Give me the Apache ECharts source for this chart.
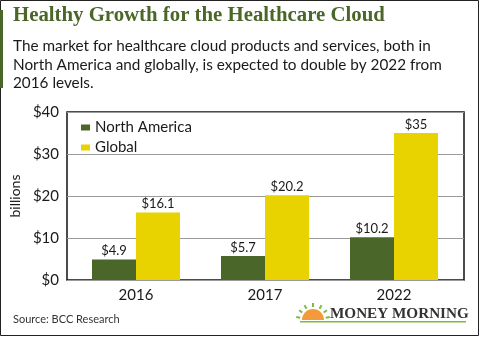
<!DOCTYPE html>
<html><head><meta charset="utf-8">
<script src="https://cdn.jsdelivr.net/npm/echarts@6/dist/echarts.min.js"></script>
<style>html,body{margin:0;padding:0;background:#fff}#c{width:480px;height:337px}</style>
</head><body><div id="c"></div>
<script>
const categories = ['2016', '2017', '2022'];
const northAmerica = [4.9, 5.7, 10.2];
const globalVals = [16.1, 20.2, 35];
const yTicks = [0, 10, 20, 30, 40];
const seriesNames = ['North America', 'Global'];

const GREEN = '#4a6729', YELLOW = '#e8d200', TXT = '#1a1a1a';
const chart = echarts.init(document.getElementById('c'), null, {renderer: 'canvas'});
const lab = {show: true, position: 'top', distance: 2, color: TXT, fontFamily: 'Lato', fontSize: 13,
  formatter: p => '$' + p.value};
chart.setOption({
  animation: false,
  backgroundColor: '#fff',
  grid: [
    {left: 65, right: 16, top: 112, bottom: 57, show: true, borderColor: '#111', borderWidth: 1.5, backgroundColor: 'transparent'},
    {left: 71.5, right: 21.5, top: 112, bottom: 57}
  ],
  legend: {
    data: seriesNames, orient: 'vertical', left: 76, top: 115, itemWidth: 9, itemHeight: 6, itemGap: 5,
    icon: 'rect', textStyle: {color: TXT, fontFamily: 'Lato', fontSize: 15}
  },
  xAxis: [
    {type: 'category', gridIndex: 0, data: categories, show: false},
    {type: 'category', gridIndex: 1, data: categories, axisLine: {show: false}, axisTick: {show: false},
     axisLabel: {color: TXT, fontFamily: 'Lato', fontSize: 15, margin: 8}}
  ],
  yAxis: [
    {type: 'value', gridIndex: 0, min: yTicks[0], max: yTicks[yTicks.length - 1], interval: 10,
     name: 'billions', nameLocation: 'middle', nameGap: 40, nameRotate: 90,
     nameTextStyle: {color: TXT, fontFamily: 'Lato', fontSize: 14},
     axisLine: {show: false}, axisTick: {show: false},
     axisLabel: {color: TXT, fontFamily: 'Lato', fontSize: 15, margin: 8, formatter: v => '$' + v},
     splitLine: {lineStyle: {color: '#9a9a9a', width: 1}}},
    {type: 'value', gridIndex: 1, min: 0, max: 40, interval: 10, show: false, splitLine: {show: false}}
  ],
  series: [
    {name: seriesNames[0], type: 'bar', xAxisIndex: 1, yAxisIndex: 1, data: northAmerica,
     barWidth: 44, barGap: '0%', itemStyle: {color: GREEN}, label: lab},
    {name: seriesNames[1], type: 'bar', xAxisIndex: 1, yAxisIndex: 1, data: globalVals,
     barWidth: 44, barGap: '0%', itemStyle: {color: YELLOW}, label: lab}
  ],
  graphic: [
    {type: 'rect', shape: {x: 0.5, y: 0.5, width: 478, height: 335}, style: {fill: 'none', stroke: '#222', lineWidth: 1}, silent: true},
    {type: 'rect', shape: {x: 0, y: 10, width: 3, height: 78}, style: {fill: GREEN}},
    {type: 'text', left: 13, top: 5, style: {text: 'Healthy Growth for the Healthcare Cloud', fill: '#4a6729',
      font: 'bold 20.8px "Liberation Serif"'}},
    {type: 'text', left: 13, top: 37, style: {text: 'The market for healthcare cloud products and services, both in\nNorth America and globally, is expected to double by 2022 from\n2016 levels.',
      fill: TXT, font: '15.3px Lato', lineHeight: 18.5}},
    {type: 'text', left: 13, top: 314, style: {text: 'Source: BCC Research', fill: '#333', font: '11px Lato'}},
    {type: 'text', left: 330, top: 307, style: {text: 'MONEY MORNING', fill: '#333', font: 'bold 15.2px "Liberation Serif"'}},
    {type: 'rect', shape: {x: 300, y: 321, width: 166, height: 1.5}, style: {fill: '#7dbb3a'}},
    {type: 'sector', shape: {cx: 313, cy: 320, r: 11, r0: 0, startAngle: Math.PI, endAngle: 2 * Math.PI},
      style: {fill: '#f49a3a'}},
    {type: 'group', children: [-80, -55, -30, 0, 30, 55, 80].map(a => {
      const r = a * Math.PI / 180;
      return {type: 'line', shape: {x1: 313 + 13 * Math.sin(r), y1: 320 - 13 * Math.cos(r), x2: 313 + 17 * Math.sin(r), y2: 320 - 17 * Math.cos(r)},
        style: {stroke: '#7dbb3a', lineWidth: 2}};
    })}
  ]
});
</script></body></html>
